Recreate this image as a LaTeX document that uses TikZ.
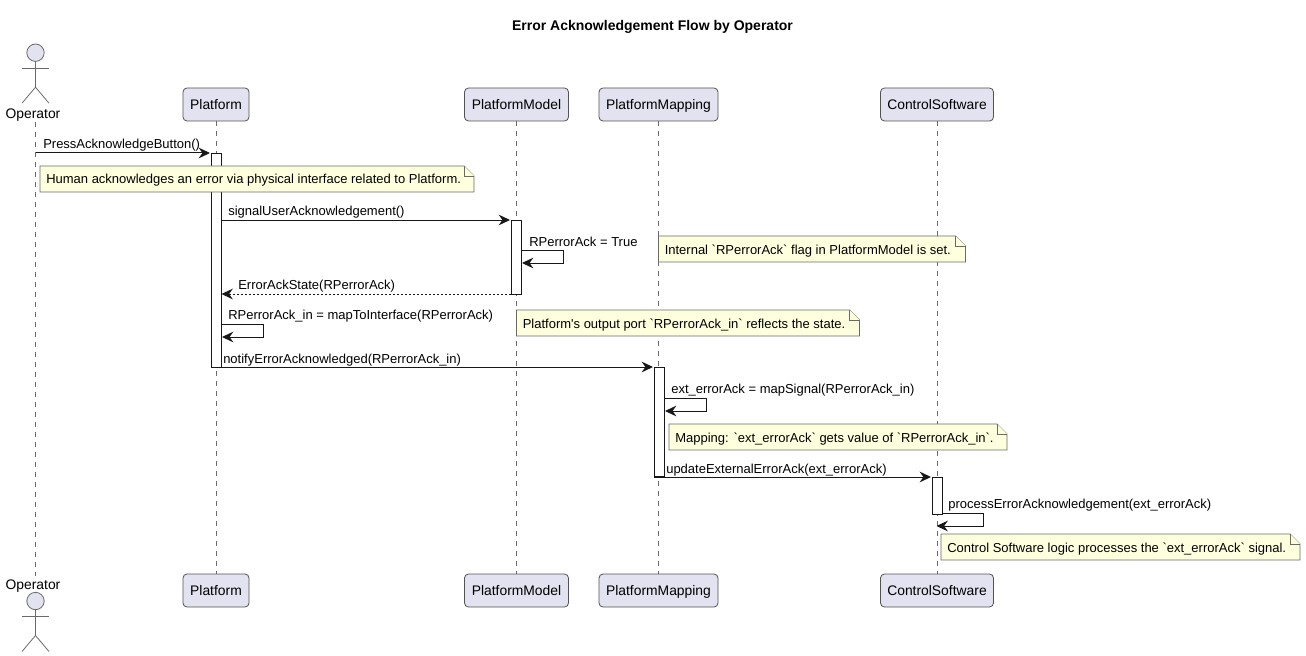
\documentclass[tikz,border=0pt]{standalone}
\usepackage{fontspec}
\setmainfont{Liberation Sans}
\usetikzlibrary{arrows.meta}

\definecolor{partfill}{HTML}{E2E2F0}
\definecolor{notefill}{HTML}{FEFFDD}
\definecolor{lineclr}{HTML}{181818}
\definecolor{lifeclr}{HTML}{6A6A6A}
\tikzset{
    head/.style={draw=lineclr!75,fill=partfill,rounded corners=3pt,line width=0.6pt,minimum height=24.75pt,inner sep=0pt,text height=9.7pt,text depth=2.2pt,font=\fontsize{10.4}{12}\selectfont},
    life/.style={draw=lifeclr,line width=0.6pt,dash pattern=on 3.75pt off 3.75pt},
    actor/.style={draw=lifeclr,line width=0.6pt},
    activation/.style={draw=lineclr,fill=white,line width=0.75pt},
    msg/.style={draw=lineclr,line width=0.75pt,-{Stealth[length=8.5pt,width=8pt,inset=2.8pt]}},
    reply/.style={msg,dash pattern=on 1.5pt off 1.5pt},
    lbl/.style={anchor=base west,inner sep=0pt,font=\fontsize{9.75}{12}\selectfont},
    notebox/.style={draw=lifeclr,fill=notefill,line width=0.6pt},
}

\begin{document}
\begin{tikzpicture}[x=0.75pt,y=-0.75pt]
    \useasboundingbox (0,0) rectangle (1306,656);
    \node[inner sep=0pt,font=\bfseries\fontsize{10.5}{12}\selectfont] (title) at (652.5,27) {Error Acknowledgement Flow by Operator};

    % participants
    \foreach \name/\x/\w in {Platform/216/66, PlatformModel/516.5/104, PlatformMapping/658.5/119, ControlSoftware/937/113} {
        \node[head,minimum width=\w*0.75pt] (\name Top) at (\x,104.5) {\name};
        \node[head,minimum width=\w*0.75pt] (\name Bot) at (\x,590.5) {\name};
        \draw[life] (\name Top) -- (\name Bot);
    }

    % actor at both ends
    \node[inner sep=0pt,font=\fontsize{10.4}{12}\selectfont] (operatorTop) at (33,115) {Operator};
    \node[inner sep=0pt,font=\fontsize{10.4}{12}\selectfont] (operatorBot) at (33,586) {Operator};
    \coordinate (operatorLifeTop) at (35.5,122);
    \coordinate (operatorLifeBot) at (35.5,576);
    \draw[life] (operatorLifeTop) -- (operatorLifeBot);
    \foreach \y in {52.7, 601} {
        \draw[actor,fill=partfill] (35.5,\y) circle (8.7);
        \draw[actor] (35.5,\y+8.7) -- (35.5,\y+34.5);
        \draw[actor] (22,\y+15.5) -- (49,\y+15.5);
        \draw[actor] (22,\y+50.5) -- (35.5,\y+34.5) -- (49,\y+50.5);
    }

    % activations
    \foreach \name/\x/\ya/\yb in {actPlatform/216/153/367, actModel/516.5/220/294, actMapping/659/367/476, actControl/937/477/514}
        \node[activation,minimum width=7.5pt,minimum height={(\yb-\ya)*0.75pt},inner sep=0pt,anchor=north] (\name) at (\x,\ya) {};

    % message ends
    \coordinate (pressFrom) at (35.5,153);
    \coordinate (pressTo) at (210,153);
    \coordinate (signalFrom) at (221,220);
    \coordinate (signalTo) at (510,220);
    \coordinate (flagFrom) at (521,250);
    \coordinate (flagTo) at (522,263);
    \coordinate (stateFrom) at (511,294);
    \coordinate (stateTo) at (221.5,294);
    \coordinate (portFrom) at (221,324);
    \coordinate (portTo) at (222,337);
    \coordinate (notifyFrom) at (211,367);
    \coordinate (notifyTo) at (653,367);
    \coordinate (mapFrom) at (664,398);
    \coordinate (mapTo) at (665,411);
    \coordinate (updateFrom) at (654,477);
    \coordinate (updateTo) at (931,477);
    \coordinate (procFrom) at (942,513);
    \coordinate (procTo) at (936.5,526);

    \draw[msg] (pressFrom) -- (pressTo);
    \draw[msg] (signalFrom) -- (signalTo);
    \draw[msg] (flagFrom) -- ++(42,0) |- (flagTo);
    \draw[reply] (stateFrom) -- (stateTo);
    \draw[msg] (portFrom) -- ++(42,0) |- (portTo);
    \draw[msg] (notifyFrom) -- (notifyTo);
    \draw[msg] (mapFrom) -- ++(42,0) |- (mapTo);
    \draw[msg] (updateFrom) -- (updateTo);
    \draw[msg] (procFrom) -- ++(41,0) |- (procTo);

    % message labels
    \node[lbl] (pressLbl) at (43,149) {PressAcknowledgeButton()};
    \node[lbl] (signalLbl) at (228,215) {signalUserAcknowledgement()};
    \node[lbl] (flagLbl) at (529,246) {RPerrorAck = True};
    \node[lbl] (stateLbl) at (238,289) {ErrorAckState(RPerrorAck)};
    \node[lbl] (portLbl) at (228,319.5) {RPerrorAck\_in = mapToInterface(RPerrorAck)};
    \node[lbl] (notifyLbl) at (223,363) {notifyErrorAcknowledged(RPerrorAck\_in)};
    \node[lbl] (mapLbl) at (671,393) {ext\_errorAck = mapSignal(RPerrorAck\_in)};
    \node[lbl] (updateLbl) at (666,473) {updateExternalErrorAck(ext\_errorAck)};
    \node[lbl] (procLbl) at (948,508) {processErrorAcknowledgement(ext\_errorAck)};

    % notes
    \foreach \name/\x/\y/\w/\txt in {
        noteHuman/40/166/434/Human acknowledges an error via physical interface related to Platform.,
        noteFlag/658.5/236/307/Internal \textasciigrave RPerrorAck\textasciigrave{} flag in PlatformModel is set.,
        notePort/516.5/310/343/Platform\textquotesingle s output port \textasciigrave RPerrorAck\_in\textasciigrave{} reflects the state.,
        noteMap/669/424/338/Mapping: \textasciigrave ext\_errorAck\textasciigrave{} gets value of \textasciigrave RPerrorAck\_in\textasciigrave.,
        noteCtrl/941/534/359/Control Software logic processes the \textasciigrave ext\_errorAck\textasciigrave{} signal.} {
        \draw[notebox] (\x,\y) -- (\x+\w-10,\y) -- (\x+\w,\y+10) -- (\x+\w,\y+26) -- (\x,\y+26) -- cycle;
        \draw[notebox] (\x+\w-10,\y) -- (\x+\w-10,\y+10) -- (\x+\w,\y+10);
        \node[lbl] (\name) at (\x+6,\y+18) {\txt};
    }
\end{tikzpicture}
\end{document}
